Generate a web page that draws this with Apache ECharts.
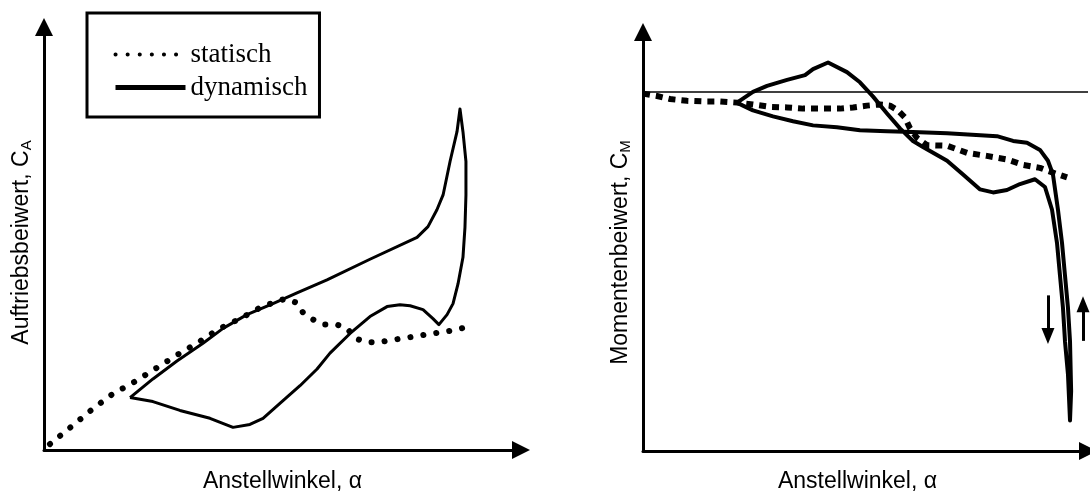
<!DOCTYPE html>
<html>
<head>
<meta charset="utf-8">
<script src="https://cdn.jsdelivr.net/npm/echarts@6/dist/echarts.min.js"></script>
<style>
  html, body { margin: 0; padding: 0; background: #fff; }
  #chart { width: 1090px; height: 498px; }
</style>
</head>
<body>
<div id="chart"></div>
<script>
// Anstellwinkel alpha (x), Beiwert (y)
const staticLift = [
  [0.30, 0.028], [1.46, 0.117], [2.47, 0.196], [3.47, 0.266], [4.48, 0.318],
  [5.58, 0.383], [6.69, 0.449], [7.70, 0.505], [8.75, 0.570], [9.86, 0.621],
  [10.97, 0.678], [12.13, 0.715], [12.73, 0.696], [13.03, 0.650], [13.53, 0.617],
  [14.04, 0.593], [14.74, 0.593], [15.25, 0.575], [15.65, 0.528], [16.25, 0.509],
  [16.81, 0.509], [17.41, 0.519], [18.06, 0.528], [18.67, 0.537], [19.27, 0.547],
  [19.92, 0.556], [20.53, 0.565], [21.18, 0.579]
]

const dynamicLift = [
  [4.33, 0.248], [5.48, 0.336], [6.69, 0.421], [8.00, 0.505], [9.01, 0.575],
  [10.21, 0.640], [11.52, 0.692], [12.73, 0.743], [14.24, 0.804], [16.40, 0.902],
  [18.77, 1.005], [19.32, 1.056], [19.77, 1.136], [20.08, 1.206], [20.43, 1.364],
  [20.78, 1.505], [20.93, 1.612], [21.08, 1.505], [21.23, 1.364], [21.23, 1.206],
  [21.18, 1.051], [21.08, 0.911], [20.83, 0.785], [20.58, 0.692], [20.28, 0.640],
  [19.87, 0.593], [19.57, 0.621], [19.07, 0.664], [18.42, 0.682], [17.91, 0.687],
  [17.26, 0.678], [16.40, 0.631], [15.40, 0.551], [14.39, 0.458], [13.74, 0.383],
  [12.88, 0.304], [11.87, 0.220], [11.02, 0.150], [10.36, 0.121], [9.51, 0.107],
  [8.35, 0.150], [6.84, 0.187], [5.48, 0.229], [4.33, 0.248]
]

const staticMoment = [
  [0, -0.003], [0.76, -0.007], [1.46, -0.012], [2.37, -0.015], [3.24, -0.016],
  [4.15, -0.016], [5.07, -0.018], [5.93, -0.021], [6.85, -0.025], [7.77, -0.026],
  [8.63, -0.028], [9.55, -0.028], [10.63, -0.028], [11.33, -0.026], [12.08, -0.023],
  [12.78, -0.021], [13.32, -0.023], [13.75, -0.031], [14.13, -0.043], [14.40, -0.061],
  [14.78, -0.077], [15.32, -0.089], [16.40, -0.090], [17.48, -0.102], [18.55, -0.107],
  [19.63, -0.113], [20.50, -0.122], [21.41, -0.127], [22.11, -0.135], [22.87, -0.143]
]

const dynamicMoment = [
  [5.07, -0.018], [5.93, 0.000], [6.69, 0.010], [7.77, 0.020], [8.74, 0.028],
  [9.17, 0.038], [9.98, 0.049], [11.00, 0.033], [11.70, 0.016], [12.41, -0.008],
  [13.16, -0.036], [13.86, -0.061], [14.56, -0.082], [15.10, -0.092], [16.40, -0.115],
  [17.26, -0.138], [18.18, -0.163], [18.88, -0.168], [19.63, -0.164], [20.33, -0.154],
  [21.14, -0.146], [21.68, -0.159], [22.06, -0.197], [22.33, -0.253], [22.49, -0.307],
  [22.65, -0.361], [22.76, -0.417], [22.92, -0.472], [23.03, -0.549], [23.09, -0.500],
  [23.03, -0.417], [22.92, -0.361], [22.76, -0.307], [22.60, -0.253], [22.38, -0.197],
  [22.11, -0.138], [21.84, -0.115], [21.41, -0.097], [20.71, -0.085], [19.96, -0.082],
  [19.09, -0.074], [16.40, -0.069], [14.56, -0.067], [13.16, -0.066], [11.70, -0.064],
  [10.46, -0.059], [9.17, -0.056], [8.09, -0.049], [7.01, -0.041], [5.93, -0.031],
  [5.39, -0.023], [5.07, -0.018]
]

// direction arrows next to the dip
const arrowDown = [[21.84, -0.340], [21.84, -0.408]]
const arrowUp = [[23.73, -0.416], [23.73, -0.355]]

const chart = echarts.init(document.getElementById('chart'))

const sans = 'Liberation Sans, Arial, sans-serif'
const serif = 'Liberation Serif, Times New Roman, serif'

const nameStyle = (padding) => ({
  fontFamily: sans,
  fontSize: 23,
  color: '#000',
  padding: padding,
  rich: {
    sub: { fontFamily: sans, fontSize: 15, color: '#000', verticalAlign: 'bottom', padding: [10, 0, 0, 0] }
  }
})

const axisBase = {
  type: 'value',
  axisLine: {
    show: true,
    onZero: false,
    symbol: ['none', 'triangle'],
    symbolSize: [18, 18],
    lineStyle: { color: '#000', width: 3 }
  },
  axisTick: { show: false },
  axisLabel: { show: false },
  splitLine: { show: false },
  nameLocation: 'middle'
}

const dots = { color: '#000', width: 6, type: [0.1, 13], cap: 'round' }
const dashes = { color: '#000', width: 6, type: [7, 6] }
const solid = { color: '#000', width: 3, join: 'round' }
const noSymbol = { color: 'rgba(0,0,0,0)', borderWidth: 0, opacity: 0 }

chart.setOption({
  animation: false,
  backgroundColor: '#fff',
  grid: [
    { left: 44, top: 27, width: 477, height: 428 },
    { left: 643, top: 32, width: 445, height: 426 }
  ],
  xAxis: [
    { ...axisBase, gridIndex: 0, min: 0, max: 24, name: 'Anstellwinkel, α', nameGap: 20, nameTextStyle: nameStyle([0, 0, 0, 0]) },
    { ...axisBase, gridIndex: 1, min: 0, max: 24, name: 'Anstellwinkel, α', nameGap: 19, nameTextStyle: nameStyle([0, 16, 0, 0]) }
  ],
  yAxis: [
    { ...axisBase, gridIndex: 0, min: 0, max: 2, name: 'Auftriebsbeiwert, C{sub|A}', nameGap: 10, nameTextStyle: nameStyle([0, 8, 0, 0]) },
    { ...axisBase, gridIndex: 1, min: -0.6, max: 0.1, name: 'Momentenbeiwert, C{sub|M}', nameGap: 10, nameTextStyle: nameStyle([0, 22, 0, 0]) }
  ],
  legend: {
    orient: 'vertical',
    left: 87,
    top: 13,
    padding: [28, 12, 16, 26],
    itemGap: 6,
    itemWidth: 70,
    itemHeight: 14,
    borderColor: '#000',
    borderWidth: 3,
    textStyle: { fontFamily: serif, fontSize: 27, color: '#000' },
    data: [
      { name: 'statisch', itemStyle: noSymbol, lineStyle: { width: 4, type: [0.1, 12], cap: 'round', color: '#000' } },
      { name: 'dynamisch', itemStyle: noSymbol, lineStyle: { width: 5, type: 'solid', color: '#000' } }
    ]
  },
  series: [
    {
      name: 'statisch', type: 'line', xAxisIndex: 0, yAxisIndex: 0,
      data: staticLift, symbol: 'none', lineStyle: dots, color: '#000'
    },
    {
      name: 'dynamisch', type: 'line', xAxisIndex: 0, yAxisIndex: 0,
      data: dynamicLift, symbol: 'none', lineStyle: solid, color: '#000'
    },
    {
      name: 'statisch', type: 'line', xAxisIndex: 1, yAxisIndex: 1,
      data: staticMoment, symbol: 'none', lineStyle: dashes, color: '#000',
      markLine: {
        silent: true,
        symbol: 'none',
        label: { show: false },
        lineStyle: { color: '#000', width: 1.5, type: 'solid' },
        data: [{ yAxis: 0 }]
      }
    },
    {
      name: 'dynamisch', type: 'line', xAxisIndex: 1, yAxisIndex: 1,
      data: dynamicMoment, symbol: 'none', lineStyle: { ...solid, width: 4 }, color: '#000',
      markLine: {
        silent: true,
        symbol: ['none', 'triangle'],
        symbolSize: [13, 16],
        label: { show: false },
        lineStyle: { color: '#000', width: 3, type: 'solid' },
        data: [
          [{ coord: arrowDown[0] }, { coord: arrowDown[1] }],
          [{ coord: arrowUp[0] }, { coord: arrowUp[1] }]
        ]
      }
    }
  ]
})
</script>
</body>
</html>
